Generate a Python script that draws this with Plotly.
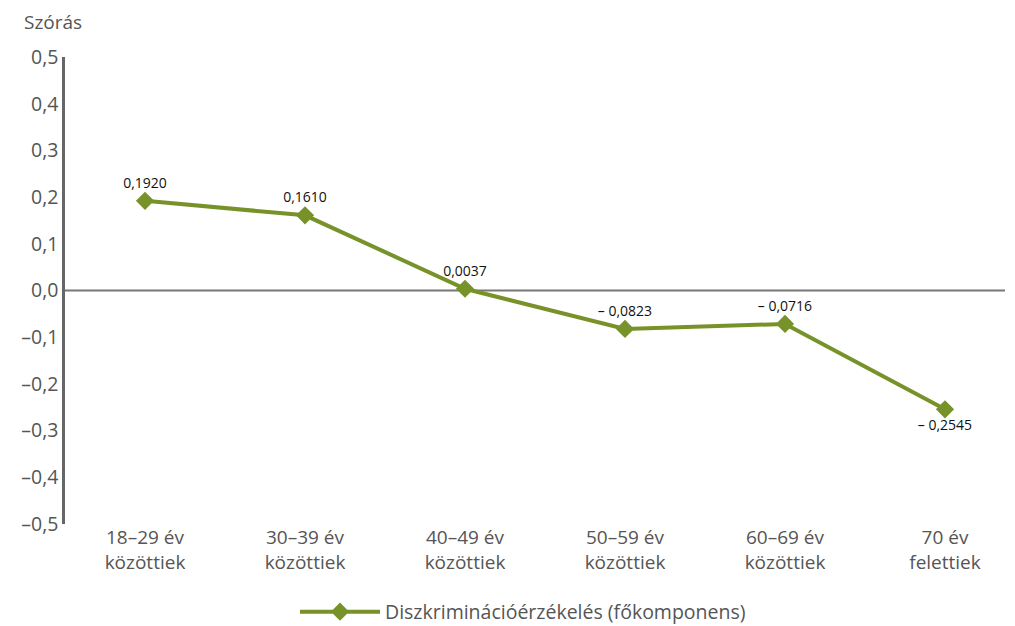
import plotly.graph_objects as go

categories = ["18–29 év<br>közöttiek", "30–39 év<br>közöttiek", "40–49 év<br>közöttiek",
              "50–59 év<br>közöttiek", "60–69 év<br>közöttiek", "70 év<br>felettiek"]
values = [0.1920, 0.1610, 0.0037, -0.0823, -0.0716, -0.2545]
series_name = "Diszkriminációérzékelés (főkomponens)"
y_ticks = [0.5, 0.4, 0.3, 0.2, 0.1, 0.0, -0.1, -0.2, -0.3, -0.4, -0.5]
y_ticktext = ["0,5", "0,4", "0,3", "0,2", "0,1", "0,0", "–0,1", "–0,2", "–0,3", "–0,4", "–0,5"]


def fmt(v):
    s = f"{abs(v):.4f}".replace(".", ",")
    return ("– " + s) if v < 0 else s


labels = [fmt(v) for v in values]
positions = ["top center"] * (len(values) - 1) + ["bottom center"]

GREEN = "#78922a"
GREY = "#555555"
FONT = "Open Sans"

x_idx = list(range(len(categories)))

fig = go.Figure()
fig.add_trace(go.Scatter(
    x=x_idx, y=values, mode="lines+markers+text",
    name=series_name,
    line=dict(color=GREEN, width=4),
    marker=dict(symbol="diamond", size=14, color=GREEN),
    text=labels, textposition=positions,
    textfont=dict(family=FONT, size=14, color="#111111"),
    cliponaxis=False,
))

fig.add_shape(type="line", xref="x", yref="y", x0=-0.5, x1=5.375, y0=0, y1=0,
              line=dict(color="#777777", width=2), layer="below")

W, H = 999, 618
fig.update_layout(
    width=W, height=H,
    margin=dict(l=57, r=2, t=49, b=H - 516, autoexpand=False),
    paper_bgcolor="white", plot_bgcolor="white",
    font=dict(family=FONT, color=GREY, size=19),
    showlegend=True,
    legend=dict(orientation="h", xref="container", yref="container",
                x=515 / W, xanchor="center", y=1 - 604 / H, yanchor="middle",
                font=dict(family=FONT, size=19.5, color=GREY), itemwidth=80),
    xaxis=dict(range=[-0.5, 5.375], tickvals=x_idx, ticktext=categories,
               showgrid=False, zeroline=False, showline=False, ticks="",
               automargin=False, ticklabelstandoff=0,
               tickfont=dict(family=FONT, size=19, color=GREY), fixedrange=True),
    yaxis=dict(range=[-0.5, 0.5], tickvals=y_ticks, ticktext=y_ticktext,
               showgrid=False, zeroline=False, showline=True, linecolor="#666666", linewidth=2.5,
               ticks="", ticklabelstandoff=0, automargin=False,
               tickfont=dict(family=FONT, size=19.5, color=GREY), fixedrange=True),
    annotations=[dict(text="Szórás", xref="paper", yref="paper", x=-0.0457, y=1.075,
                      xanchor="left", yanchor="middle", showarrow=False,
                      font=dict(family=FONT, size=19, color=GREY))],
)

fig.write_html("out.html")
